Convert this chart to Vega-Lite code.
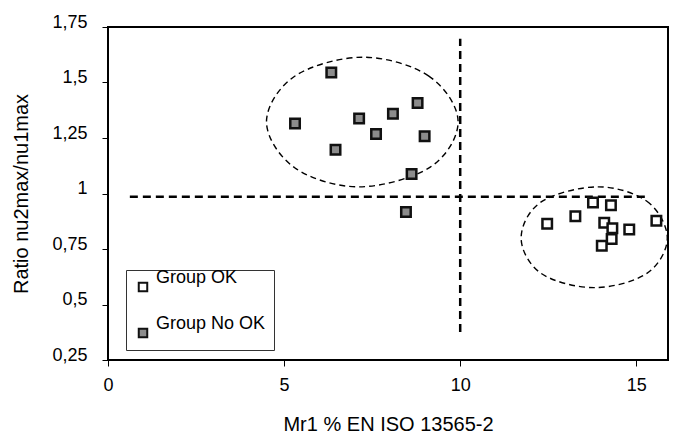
{
  "$schema": "https://vega.github.io/schema/vega-lite/v6.json",
  "width": 560,
  "height": 333,
  "autosize": {"type": "none"},
  "padding": {"left": 108, "top": 27, "right": 8, "bottom": 77},
  "background": "white",
  "config": {
    "font": "Liberation Sans",
    "view": {"stroke": "black", "strokeWidth": 2},
    "axis": {
      "grid": false,
      "domain": false,
      "tickColor": "black",
      "tickSize": 6,
      "labelFont": "Liberation Sans",
      "labelFontSize": 18,
      "labelColor": "black",
      "titleFont": "Liberation Sans",
      "titleFontSize": 20,
      "titleFontWeight": "normal",
      "titleColor": "black"
    },
    "legend": {
      "labelFont": "Liberation Sans",
      "labelFontSize": 18,
      "labelColor": "black"
    }
  },
  "datasets": {
    "pts": [
      {"group": "Group No OK", "x": 6.34, "y": 1.545},
      {"group": "Group No OK", "x": 5.31, "y": 1.315},
      {"group": "Group No OK", "x": 7.13, "y": 1.338},
      {"group": "Group No OK", "x": 8.09, "y": 1.359},
      {"group": "Group No OK", "x": 8.79, "y": 1.408},
      {"group": "Group No OK", "x": 7.61, "y": 1.268},
      {"group": "Group No OK", "x": 8.99, "y": 1.258},
      {"group": "Group No OK", "x": 6.46, "y": 1.197},
      {"group": "Group No OK", "x": 8.62, "y": 1.088},
      {"group": "Group No OK", "x": 8.46, "y": 0.917},
      {"group": "Group OK", "x": 12.47, "y": 0.864},
      {"group": "Group OK", "x": 13.27, "y": 0.897},
      {"group": "Group OK", "x": 13.77, "y": 0.959},
      {"group": "Group OK", "x": 14.28, "y": 0.947},
      {"group": "Group OK", "x": 14.09, "y": 0.868},
      {"group": "Group OK", "x": 14.32, "y": 0.844},
      {"group": "Group OK", "x": 14.8, "y": 0.838},
      {"group": "Group OK", "x": 14.3, "y": 0.795},
      {"group": "Group OK", "x": 14.02, "y": 0.765},
      {"group": "Group OK", "x": 15.57, "y": 0.877}
    ],
    "ell": [
      {"eid": "A", "i": 0, "x": 7.23, "y": 1.614},
      {"eid": "A", "i": 1, "x": 9.1, "y": 1.53},
      {"eid": "A", "i": 2, "x": 9.94, "y": 1.326},
      {"eid": "A", "i": 3, "x": 9.16, "y": 1.12},
      {"eid": "A", "i": 4, "x": 7.13, "y": 1.03},
      {"eid": "A", "i": 5, "x": 5.3, "y": 1.116},
      {"eid": "A", "i": 6, "x": 4.5, "y": 1.323},
      {"eid": "A", "i": 7, "x": 5.3, "y": 1.528},
      {"eid": "B", "i": 0, "x": 13.9, "y": 1.03},
      {"eid": "B", "i": 1, "x": 15.3, "y": 0.965},
      {"eid": "B", "i": 2, "x": 15.88, "y": 0.8},
      {"eid": "B", "i": 3, "x": 15.3, "y": 0.64},
      {"eid": "B", "i": 4, "x": 13.8, "y": 0.576},
      {"eid": "B", "i": 5, "x": 12.3, "y": 0.64},
      {"eid": "B", "i": 6, "x": 11.73, "y": 0.8},
      {"eid": "B", "i": 7, "x": 12.3, "y": 0.962}
    ],
    "rules": [
      {"x": 0.62, "x2": 15.35, "y": 0.985, "y2": 0.985},
      {"x": 10, "x2": 10, "y": 0.376, "y2": 1.697}
    ]
  },
  "layer": [
    {
      "data": {"name": "rules"},
      "mark": {"type": "rule", "stroke": "black", "strokeWidth": 2.5, "strokeDash": [8, 5]},
      "encoding": {
        "x": {"field": "x", "type": "quantitative", "scale": {"domain": [0, 15.9], "nice": false, "zero": false},
          "axis": {"values": [0, 5, 10, 15], "title": "Mr1 % EN ISO 13565-2", "labelFlush": false, "labelPadding": 10, "titlePadding": 20}},
        "x2": {"field": "x2"},
        "y": {"field": "y", "type": "quantitative", "scale": {"domain": [0.25, 1.75], "nice": false, "zero": false},
          "axis": {"values": [0.25, 0.5, 0.75, 1, 1.25, 1.5, 1.75], "title": "Ratio nu2max/nu1max",
            "labelExpr": "replace(format(datum.value, ''), '.', ',')", "labelFlush": false, "labelBaseline": "alphabetic",
            "labelPadding": 15, "titlePadding": 20}},
        "y2": {"field": "y2"}
      }
    },
    {
      "data": {"name": "ell"},
      "mark": {"type": "line", "interpolate": "cardinal-closed", "stroke": "black", "strokeWidth": 1.4, "strokeDash": [6, 4]},
      "encoding": {
        "x": {"field": "x", "type": "quantitative"},
        "y": {"field": "y", "type": "quantitative"},
        "detail": {"field": "eid"},
        "order": {"field": "i", "type": "quantitative"}
      }
    },
    {
      "data": {"name": "pts"},
      "mark": {"type": "point", "shape": "square", "filled": true, "size": 90, "stroke": "#111", "strokeWidth": 2.5, "opacity": 1},
      "encoding": {
        "x": {"field": "x", "type": "quantitative"},
        "y": {"field": "y", "type": "quantitative"},
        "fill": {
          "field": "group", "type": "nominal",
          "scale": {"domain": ["Group OK", "Group No OK"], "range": ["white", "#8c8c8c"]},
          "legend": {
            "title": null,
            "orient": "none",
            "legendX": 18,
            "legendY": 243,
            "padding": 8,
            "rowPadding": 19,
            "strokeColor": "#333",
            "fillColor": "white",
            "symbolType": "square",
            "symbolSize": 72,
            "symbolStrokeColor": "#111",
            "symbolStrokeWidth": 2,
            "symbolOpacity": 1,
            "labelBaseline": "bottom",
            "labelOffset": 4
          }
        }
      }
    }
  ]
}
